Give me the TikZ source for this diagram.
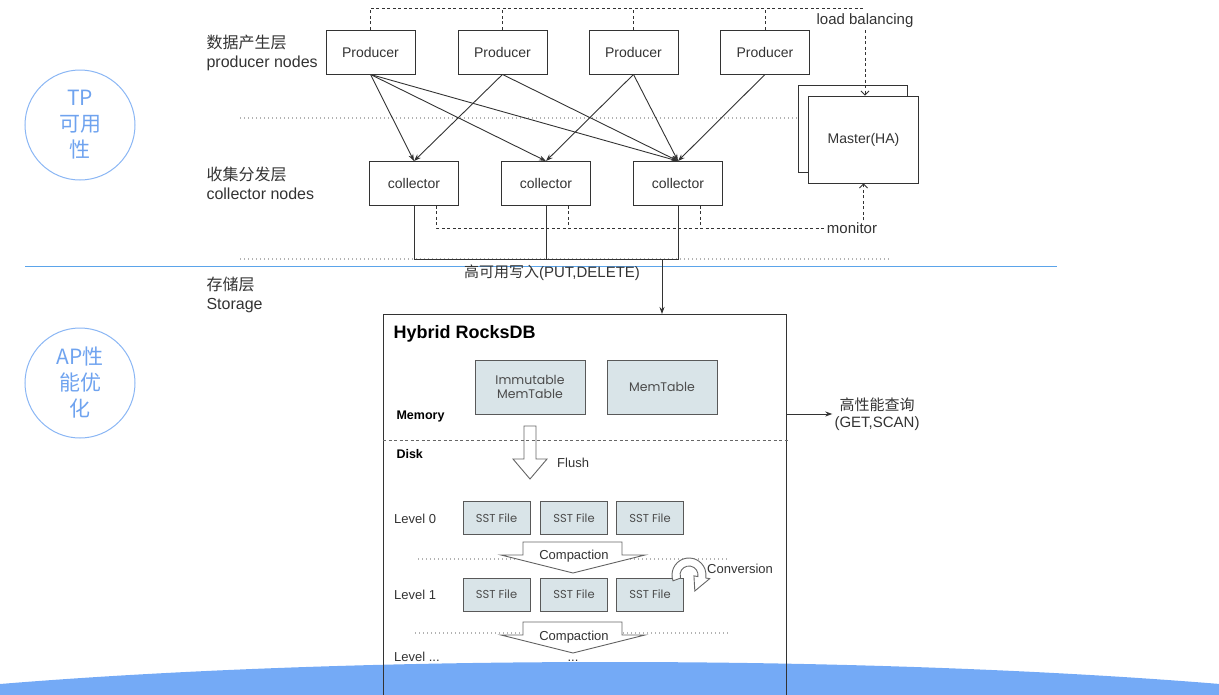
\documentclass[tikz,border=0pt]{standalone}
\usepackage{fontspec}
\setmainfont{Liberation Sans}
\newfontfamily\cjk{Noto Sans CJK SC}
\newfontfamily\geo{Poppins}
\usetikzlibrary{arrows.meta, positioning, calc}
\definecolor{lineg}{HTML}{333333}
\definecolor{cellfill}{HTML}{D9E4E8}
\definecolor{ringblue}{HTML}{8AB6F4}
\definecolor{ringtext}{HTML}{6FA3EF}
\definecolor{bandblue}{HTML}{74AAF6}
\definecolor{ruleblue}{HTML}{5BA4EA}

\begin{document}
\begin{tikzpicture}[x=1pt, y=-1pt,
        >={Stealth[length=7pt, width=5pt]},
        box/.style={draw=lineg, line width=0.9pt, minimum width=89pt, minimum height=44pt, inner sep=0pt, font=\fontsize{14}{16}\selectfont, text=lineg},
        cell/.style={draw=black!65, fill=cellfill, line width=0.9pt, inner sep=0pt, align=center, text=black!70, font=\geo\fontsize{12.5}{14}\selectfont},
        lay/.style={anchor=west, align=left, text=lineg, font=\fontsize{16}{19}\selectfont},
        lbl/.style={text=lineg, inner sep=2pt, font=\fontsize{15}{17}\selectfont},
        lvl/.style={text=lineg, inner sep=1pt, font=\fontsize{13}{15}\selectfont},
        bold/.style={anchor=west, text=black, font=\bfseries\fontsize{12.5}{14}\selectfont},
        arr/.style={->, line width=0.9pt, draw=lineg},
        link/.style={line width=0.9pt, draw=lineg},
        dsh/.style={line width=0.8pt, draw=lineg, dash pattern=on 3pt off 2.5pt},
        barb/.style={-{Straight Barb[length=4pt, width=8pt]}},
        dots/.style={line width=1.2pt, draw=black!30, dash pattern=on 1pt off 3pt},
        hollow/.style={draw=black!60, fill=white, line width=0.9pt, line join=miter},
        ring/.style={circle, draw=ringblue, line width=1pt, minimum size=110pt, inner sep=0pt, align=center, text=ringtext, font=\cjk\fontsize{21}{26}\selectfont},
    ]
    \useasboundingbox (0,0) rectangle (1219,694);
    % bottom band
    \begin{scope}
        \clip (0,0) rectangle (1219,694);
        \fill[bandblue] (610,768) ellipse [x radius=1000, y radius=106];
    \end{scope}
    % side circles and layer names
    \node[ring] (tp) at (80,125) {TP\\可用\\性};
    \node[ring] (ap) at (80,383) {AP性\\能优\\化};
    \draw[ruleblue, line width=0.8pt] (25,266) -- (1057,266);
    \node[lay] (lprod) at (203,52.5) {{\cjk 数据产生层}\\producer nodes};
    \node[lay] (lcoll) at (203,183.5) {{\cjk 收集分发层}\\collector nodes};
    \node[lay] (lstor) at (203,295) {{\cjk 存储层}\\Storage};
    \draw[dots] (240,118) -- (805,118);
    \draw[dots] (240,259) -- (892,259);
    % producers and collectors
    \foreach \i/\x in {1/370.5, 2/502.5, 3/633.5, 4/765}
        \node[box] (p\i) at (\x,52) {Producer};
    \foreach \i/\x in {1/414, 2/546, 3/678}
        \node[box] (c\i) at (\x,183.5) {collector};
    \foreach \a/\b in {1/1, 1/2, 1/3, 2/1, 2/3, 3/2, 3/3, 4/3}
        \draw[arr] (p\a.south) -- (c\b.north);
    % master
    \node[box, fill=white, minimum width=109pt, minimum height=87pt] (mback) at (852.5,128.5) {};
    \node[box, fill=white, minimum width=110pt, minimum height=87pt] (master) at (863.5,139.5) {Master(HA)};
    \coordinate (lbtop) at (865,8);
    \node[lbl] (lb) at (865,21) {load balancing};
    \draw[dsh] (p1.north) |- (lbtop);
    \foreach \i in {2,3,4}
        \draw[dsh] (p\i.north) -- (p\i.north |- lbtop);
    \draw[dsh, barb] (lb.south) -- (lb.south |- master.north);
    \node[lbl] (mon) at (852,228) {monitor};
    \draw[dsh, barb] (mon.north -| master) -- (master.south);
    \foreach \i in {1,2,3}
        \draw[dsh] ($(c\i.south)+(22.5,0)$) |- (mon.west);
    % write path
    \coordinate (bus) at (662,259);
    \draw[link] (c1.south) |- (bus -| c3.south) -- (c3.south);
    \draw[link] (c2.south) -- (c2.south |- bus);
    \node[lbl] (put) at (552,273) {{\cjk 高可用写入}(PUT,DELETE)};
    % rocksdb
    \node[draw=lineg, line width=0.9pt, minimum width=403pt, minimum height=420pt, anchor=north west, inner sep=0pt] (db) at (383,314) {};
    \draw[arr] (bus) -- (bus |- db.north);
    \node[anchor=west, text=black, font=\bfseries\fontsize{18}{20}\selectfont] (title) at (390,334) {Hybrid RocksDB};
    \node[cell, minimum width=110pt, minimum height=54pt] (imm) at (530,387) {Immutable\\MemTable};
    \node[cell, minimum width=110pt, minimum height=54pt] (mt) at (662,387) {MemTable};
    \node[bold] (mem) at (393,416) {Memory};
    \node[bold] (disk) at (393,454) {Disk};
    \draw[hollow] (524,426) -- (536,426) -- (536,459) -- (547,459) -- (530,479) -- (513,459) -- (524,459) -- cycle;
    \draw[dsh, draw=black!60] (383,440) -- (788,440);
    \node[lvl, anchor=west] (flush) at (556,463) {Flush};
    \node[lbl, align=center] (qry) at (877,414) {{\cjk 高性能查询}\\(GET,SCAN)};
    \draw[arr] (db.east |- qry) -- (qry.west);
    % levels
    \node[lvl, anchor=west] (lv0) at (393,519) {Level 0};
    \node[lvl, anchor=west] (lv1) at (393,595) {Level 1};
    \node[lvl, anchor=west] (lvn) at (393,657) {Level ...};
    \foreach \i/\x in {1/496.5, 2/574, 3/650} {
        \node[cell, minimum width=67pt, minimum height=33pt, font=\geo\fontsize{11.5}{13}\selectfont] (sa\i) at (\x,518) {SST File};
        \node[cell, minimum width=67pt, minimum height=33pt, font=\geo\fontsize{11.5}{13}\selectfont] (sb\i) at (\x,594.5) {SST File};
    }
    \draw[dots] (418,559) -- (730,559);
    \draw[dots] (415,633) -- (728,633);
    \draw[hollow] (523,542) -- (622,542) -- (622,555) -- (645,555) -- (573,573) -- (501,555) -- (523,555) -- cycle;
    \node[lvl] (cp1) at (574,556) {Compaction};
    \draw[hollow] (523,622) -- (622,622) -- (622,635) -- (645,635) -- (573,653) -- (501,635) -- (523,635) -- cycle;
    \node[lvl] (cp2) at (574,637) {Compaction};
    \node[lvl] (more) at (573,661) {...};
    % conversion
    \coordinate (cv) at (689,575);
    \draw[hollow] ($(cv)+(-200:17)$) arc[start angle=-200, end angle=10, radius=17] -- ($(cv)+(10:21)$) -- ($(cv)+(70:17)$) -- ($(cv)+(10:5)$) -- ($(cv)+(10:9)$) arc[start angle=10, end angle=-200, radius=9] -- cycle;
    \node[lvl, anchor=west] (conv) at (706,569) {Conversion};
\end{tikzpicture}
\end{document}
